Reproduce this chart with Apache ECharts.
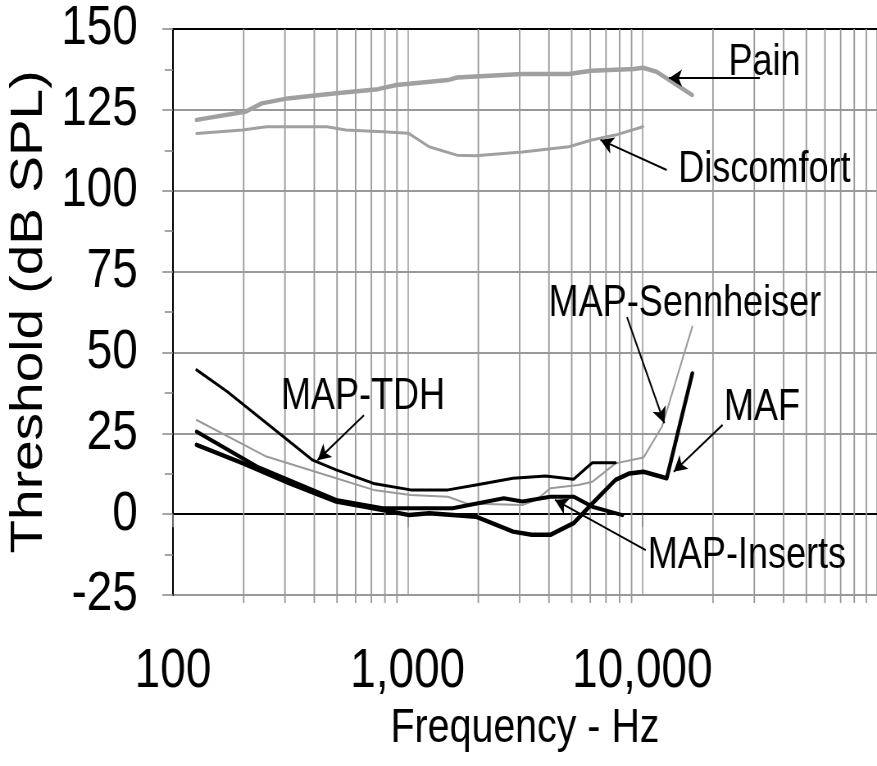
<!DOCTYPE html>
<html>
<head>
<meta charset="utf-8">
<script src="https://cdn.jsdelivr.net/npm/echarts@6/dist/echarts.min.js"></script>
<style>
  html, body { margin: 0; padding: 0; background: #fff; }
  #wrap { width: 877px; height: 766px; overflow: hidden; }
  #chart { height: 766px; transform-origin: 0 0; }
</style>
</head>
<body>
<div id="wrap"><div id="chart"></div></div>
<script>
// frequencies in Hz, thresholds in dB SPL
var painFreq = [126, 203, 239, 300, 496, 747, 895, 1486, 1622, 3078, 4855, 6067, 9195, 10060, 11500, 16300];
var painDb   = [121.9, 124.4, 127, 128.4, 130.1, 131.4, 132.7, 134.2, 135, 136.1, 136.1, 137.1, 137.6, 138, 136.8, 129.6];

var discFreq = [126, 198, 250, 453, 545, 783, 1006, 1234, 1618, 1948, 3078, 4855, 6090, 7665, 10060];
var discDb   = [117.7, 118.8, 119.8, 119.8, 118.8, 118.2, 117.8, 113.6, 111, 110.8, 112, 113.6, 115.7, 117.2, 119.8];

var tdhFreq = [126, 170, 394, 496, 715, 1030, 1485, 1953, 2812, 3873, 5093, 6118, 7683];
var tdhDb   = [44.6, 37.9, 16.7, 13.7, 9.5, 7.5, 7.5, 9.0, 11.1, 11.8, 10.8, 15.9, 15.9];

var sennFreq = [126, 250, 496, 715, 1030, 1485, 1782, 3082, 3535, 4055, 5331, 6118, 7683, 10115, 12130, 16330];
var sennDb   = [29.1, 17.8, 11.1, 7.5, 5.9, 5.4, 3.3, 2.8, 4.4, 8.0, 9.0, 10, 15.7, 17.5, 27.1, 58];

var mafFreq = [126, 199, 314, 496, 783, 1016, 1236, 1953, 2812, 3377, 4055, 5093, 6118, 7683, 8810, 10115, 12700, 16330];
var mafDb   = [21.4, 15.7, 9.5, 3.9, 1.3, -0.3, 0.3, -0.8, -5.4, -6.4, -6.4, -2.8, 3.3, 10.6, 12.6, 13.1, 11.1, 43.5];

var insFreq = [126, 228, 496, 783, 1030, 1554, 2567, 3082, 4055, 5093, 6118, 8226];
var insDb   = [25.5, 14.7, 4.4, 1.8, 1.8, 1.8, 4.9, 3.9, 5.4, 5.4, 2.3, -0.3];

// axis ticks
var xTicks = [100, 1000, 10000];
var xTickText = ['100', '1,000', '10,000'];
var minorFreq = [200, 300, 400, 500, 600, 700, 800, 900,
                 2000, 3000, 4000, 5000, 6000, 7000, 8000, 9000,
                 20000, 30000, 40000, 50000, 60000, 70000, 80000, 90000];
var yMin = -25, yMax = 150, yStep = 25;

// callouts: label anchor, arrow tail, arrow head  ([Hz, dB])
var noteText = ['Pain', 'Discomfort', 'MAP-Sennheiser', 'MAF', 'MAP-TDH', 'MAP-Inserts'];
var noteAt   = [[33140, 139.6], [33140, 106.4], [15190, 65.0], [32330, 32.8], [645, 36.2], [27910, -13.0]];
var noteTail = [[31700, 134.8], [12700, 106.4], [8600, 60.9], [21970, 27.6], [651, 30.6], [10340, -11.1]];
var noteHead = [[12980, 134.8], [6630, 115.7], [12410, 28.1], [13600, 13.1], [413, 16.7], [4243, 4.4]];

// the figure is a horizontally squeezed scan: draw wider, then squeeze the page
var W = 1070;
var SX = 877 / W;
var font = "'Liberation Sans', Arial, sans-serif";

var el = document.getElementById('chart');
el.style.width = W + 'px';
el.style.transform = 'scaleX(' + SX + ')';

function pairs(xs, ys) {
    var out = [];
    xs.forEach(function (x, i) { out.push([x, ys[i]]); });
    return out;
}

function curve(name, xs, ys, color, width) {
    return {
        name: name,
        type: 'line',
        data: pairs(xs, ys),
        symbol: 'none',
        z: 3,
        lineStyle: { color: color, width: width, join: 'round', cap: 'round' }
    };
}

var chart = echarts.init(el);

var arrows = [];
var labels = [];
noteText.forEach(function (t, i) {
    arrows.push([{ coord: noteTail[i] }, { coord: noteHead[i] }]);
    labels.push({
        coord: noteAt[i],
        symbol: 'rect',
        symbolSize: 1,
        itemStyle: { color: 'rgba(0,0,0,0)' },
        label: {
            show: true,
            position: 'inside',
            formatter: t,
            color: '#000',
            fontFamily: font,
            fontSize: 44
        }
    });
});

chart.setOption({
    animation: false,
    backgroundColor: '#fff',
    grid: {
        left: 173 / SX, top: 29, right: 0, bottom: 171,
        containLabel: false,
        outerBoundsMode: 'none'
    },
    xAxis: [{
        type: 'log',
        logBase: 10,
        min: 100,
        max: 100000,
        name: 'Frequency - Hz',
        nameLocation: 'middle',
        nameGap: 98,
        nameTextStyle: { fontFamily: font, fontSize: 48, color: '#000' },
        axisLine: { lineStyle: { color: '#000', width: 2 } },
        axisTick: { show: true, length: 13, lineStyle: { color: '#888', width: 1.5 } },
        splitLine: { show: true, lineStyle: { color: '#999', width: 1.5 } },
        axisLabel: {
            margin: 49,
            fontFamily: font,
            fontSize: 56,
            color: '#000',
            showMaxLabel: false,
            formatter: function (v) {
                var k = xTicks.indexOf(Math.round(v));
                return k >= 0 ? xTickText[k] : '';
            }
        }
    }, {
        // top border
        type: 'log',
        position: 'top',
        min: 100,
        max: 100000,
        axisLine: { lineStyle: { color: '#000', width: 2 } },
        axisTick: { show: false },
        axisLabel: { show: false },
        splitLine: { show: false }
    }],
    yAxis: {
        type: 'value',
        min: yMin,
        max: yMax,
        interval: yStep,
        name: 'Threshold (dB SPL)',
        nameLocation: 'middle',
        nameGap: 146,
        nameTextStyle: { fontFamily: font, fontSize: 55, color: '#000' },
        axisLine: { show: true, lineStyle: { color: '#000', width: 2 } },
        axisTick: { show: true, length: 13, lineStyle: { color: '#888', width: 1.5 } },
        minorTick: { show: true, splitNumber: 2, length: 10, lineStyle: { color: '#888', width: 1.5 } },
        splitLine: { show: true, lineStyle: { color: '#999', width: 2 } },
        axisLabel: { margin: 43, fontFamily: font, fontSize: 56, color: '#000' }
    },
    series: [
        {
            // minor log grid lines + their small ticks under the axis
            type: 'custom',
            silent: true,
            clip: false,
            z: 1,
            data: minorFreq.map(function (f) { return [f, yMin]; }),
            encode: { x: 0, y: 1 },
            renderItem: function (params, api) {
                var top = api.coord([api.value(0), yMax]);
                var bot = api.coord([api.value(0), yMin]);
                return {
                    type: 'line',
                    shape: { x1: top[0], y1: top[1], x2: bot[0], y2: bot[1] + 8 },
                    style: { stroke: '#999', lineWidth: 1.8 }
                };
            }
        },
        curve('Pain', painFreq, painDb, '#a0a0a0', 4.5),
        curve('Discomfort', discFreq, discDb, '#a0a0a0', 3),
        curve('MAP-Sennheiser', sennFreq, sennDb, '#999', 2),
        curve('MAP-TDH', tdhFreq, tdhDb, '#000', 3),
        curve('MAP-Inserts', insFreq, insDb, '#000', 4),
        curve('MAF', mafFreq, mafDb, '#000', 4.5),
        {
            name: 'notes',
            type: 'line',
            data: [],
            z: 4,
            markLine: {
                silent: true,
                symbol: ['none', 'arrow'],
                symbolSize: [13, 16],
                label: { show: false },
                lineStyle: { color: '#000', width: 2, type: 'solid' },
                data: arrows
            },
            markPoint: {
                silent: true,
                data: labels
            }
        }
    ]
});
</script>
</body>
</html>
